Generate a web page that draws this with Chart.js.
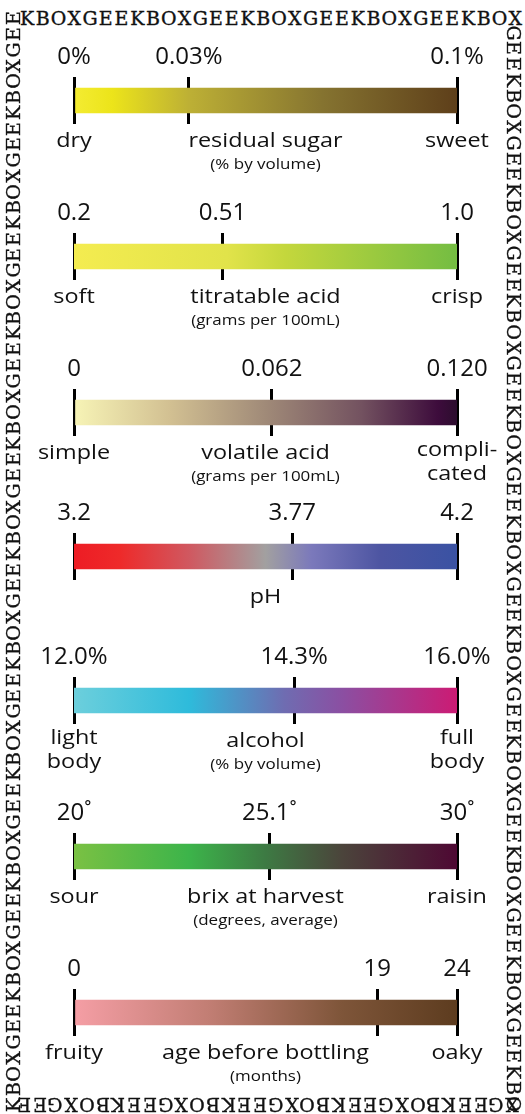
<!DOCTYPE html>
<html>
<head>
<meta charset="utf-8">
<script src="https://cdn.jsdelivr.net/npm/chart.js@4.4.1/dist/chart.umd.min.js"></script>
<style>
  html, body { margin: 0; padding: 0; background: #fff; }
  #page { position: relative; width: 525px; height: 1114px; overflow: hidden; background: #fff; }
  #page canvas { position: absolute; left: 0; }
  .ch {
    position: absolute; width: 16px; height: 18px; line-height: 18px;
    text-align: center; font-family: 'DejaVu Serif', serif; font-size: 19px;
    color: #111; -webkit-text-stroke: 0.35px #111;
  }
</style>
</head>
<body>
<div id="page"></div>
<script>
// --- data ---
const rowTitles = ['residual sugar', 'titratable acid', 'volatile acid', 'pH', 'alcohol', 'brix at harvest', 'age before bottling'];
const rowUnits = ['(% by volume)', '(grams per 100mL)', '(grams per 100mL)', '', '(% by volume)', '(degrees, average)', '(months)'];
const lowWords = [['dry'], ['soft'], ['simple'], [], ['light', 'body'], ['sour'], ['fruity']];
const highWords = [['sweet'], ['crisp'], ['compli-', 'cated'], [], ['full', 'body'], ['raisin'], ['oaky']];
const scaleMin = [0, 0.2, 0, 3.2, 12.0, 20, 0];
const scaleMax = [0.1, 1.0, 0.120, 4.2, 16.0, 30, 24];
const averages = [0.03, 0.51, 0.062, 3.77, 14.3, 25.1, 19];
const tickTexts = [
  ['0%', '0.03%', '0.1%'],
  ['0.2', '0.51', '1.0'],
  ['0', '0.062', '0.120'],
  ['3.2', '3.77', '4.2'],
  ['12.0%', '14.3%', '16.0%'],
  ['20˚', '25.1˚', '30˚'],
  ['0', '19', '24']
];

// --- styles / layout ---
const gradients = [
  [[0, '#f4ec32'], [0.1, '#ece41a'], [0.3, '#bdb035'], [0.65, '#857330'], [1, '#5e3f1a']],
  [[0, '#f4ec50'], [0.4, '#e1e34a'], [0.55, '#c4d73c'], [1, '#74bd42']],
  [[0, '#f7f4b6'], [0.25, '#d2c092'], [0.5, '#a08a78'], [0.75, '#735260'], [0.95, '#3d0c3c'], [1, '#2c0d2e']],
  [[0, '#ed1c24'], [0.12, '#ee2a2a'], [0.3, '#d05860'], [0.5, '#a2a0a0'], [0.62, '#7b79bb'], [0.8, '#4d55a2'], [1, '#3a52a3']],
  [[0, '#6ccfdc'], [0.3, '#2ebbdb'], [0.55, '#6f6cb1'], [0.7, '#8b4fa2'], [1, '#cc1b74']],
  [[0, '#7ac143'], [0.3, '#3cb44a'], [0.5, '#3d7a43'], [0.7, '#4b443b'], [1, '#4e0833']],
  [[0, '#f59ea5'], [0.35, '#c27e74'], [0.7, '#7e5539'], [1, '#5d3c1f']]
];
const ROW_TOPS = [88, 244, 400, 544, 688, 844, 1000];
const INK = '#111';
const SX = 1.17; // labels are a bit wide in the original

Chart.defaults.font.family = '"Open Sans", sans-serif';

const page = document.getElementById('page');

// labels under each bar
const rowLabelPlugin = {
  id: 'rowLabels',
  afterDraw(chart, args, opts) {
    const i = opts.row;
    const ctx = chart.ctx;
    const xs = chart.scales.x;
    const bar = chart.getDatasetMeta(0).data[0];
    const top = bar.y - bar.height / 2;
    const put = (text, px, py, size) => {
      ctx.save();
      ctx.font = size + 'px "Open Sans"';
      ctx.fillStyle = INK;
      ctx.textAlign = 'center';
      ctx.textBaseline = 'alphabetic';
      ctx.translate(px, py);
      ctx.scale(SX, 1);
      ctx.fillText(text, 0, 0);
      ctx.restore();
    };
    const words = (list, px) => {
      if (list.length === 1) put(list[0], px, top + 59, 20);
      if (list.length === 2) {
        put(list[0], px, top + 56, 20);
        put(list[1], px, top + 80, 20);
      }
    };
    words(lowWords[i], xs.getPixelForValue(scaleMin[i]));
    words(highWords[i], xs.getPixelForValue(scaleMax[i]));
    const mid = xs.getPixelForValue((scaleMin[i] + scaleMax[i]) / 2);
    put(rowTitles[i], mid, top + 59, 20);
    if (rowUnits[i]) put(rowUnits[i], mid, top + 80.5, 14.5);
  }
};

function makeRow(i) {
  const canvas = document.createElement('canvas');
  canvas.width = 525;
  canvas.height = 145;
  canvas.style.top = (ROW_TOPS[i] - 52) + 'px';
  page.appendChild(canvas);
  const stops = gradients[i];

  new Chart(canvas, {
    type: 'bar',
    data: {
      labels: [rowTitles[i]],
      datasets: [{
        data: [[scaleMin[i], scaleMax[i]]],
        backgroundColor: (c) => {
          const a = c.chart.chartArea;
          if (!a) return stops[0][1];
          const g = c.chart.ctx.createLinearGradient(a.left, 0, a.right, 0);
          stops.forEach(([o, col]) => g.addColorStop(o, col));
          return g;
        },
        barThickness: 25,
        borderWidth: 0,
        borderSkipped: false
      }]
    },
    options: {
      indexAxis: 'y',
      responsive: false,
      animation: false,
      events: [],
      layout: { padding: { left: 74, right: 68, top: 1, bottom: 57 } },
      plugins: {
        legend: { display: false },
        tooltip: { enabled: false },
        rowLabels: { row: i }
      },
      scales: {
        x: {
          type: 'linear',
          position: 'top',
          min: scaleMin[i],
          max: scaleMax[i],
          z: 1,
          border: { display: false },
          grid: { color: '#000', lineWidth: 3, drawTicks: false },
          afterBuildTicks: (axis) => {
            axis.ticks = [scaleMin[i], averages[i], scaleMax[i]].map((v) => ({ value: v }));
          },
          ticks: {
            autoSkip: false,
            maxRotation: 0,
            padding: 8,
            color: INK,
            font: { size: 24, lineHeight: 1 },
            callback: (v, k) => tickTexts[i][k]
          }
        },
        y: { display: false }
      }
    },
    plugins: [rowLabelPlugin]
  });
}

rowTitles.forEach((_, i) => makeRow(i));

// GEEKBOX frame, running clockwise
const WORD = 'GEEKBOX';
const STEP = 15.75;
function strip(start, count, cx, cy, dx, dy, angle) {
  for (let k = 0; k < count; k++) {
    const s = document.createElement('span');
    s.className = 'ch';
    s.textContent = WORD[(start + k) % WORD.length];
    s.style.left = (cx + dx * k * STEP - 8) + 'px';
    s.style.top = (cy + dy * k * STEP - 9) + 'px';
    s.style.transform = 'rotate(' + angle + 'deg)';
    page.appendChild(s);
  }
}
strip(3, 32, 27, 18, 1, 0, 0);         // top
strip(0, 69, 514, 32.5, 0, 1, 90);     // right
strip(6, 32, 512, 1104.5, -1, 0, 180); // bottom
strip(3, 70, 12.5, 1105, 0, -1, -90);  // left
</script>
</body>
</html>
